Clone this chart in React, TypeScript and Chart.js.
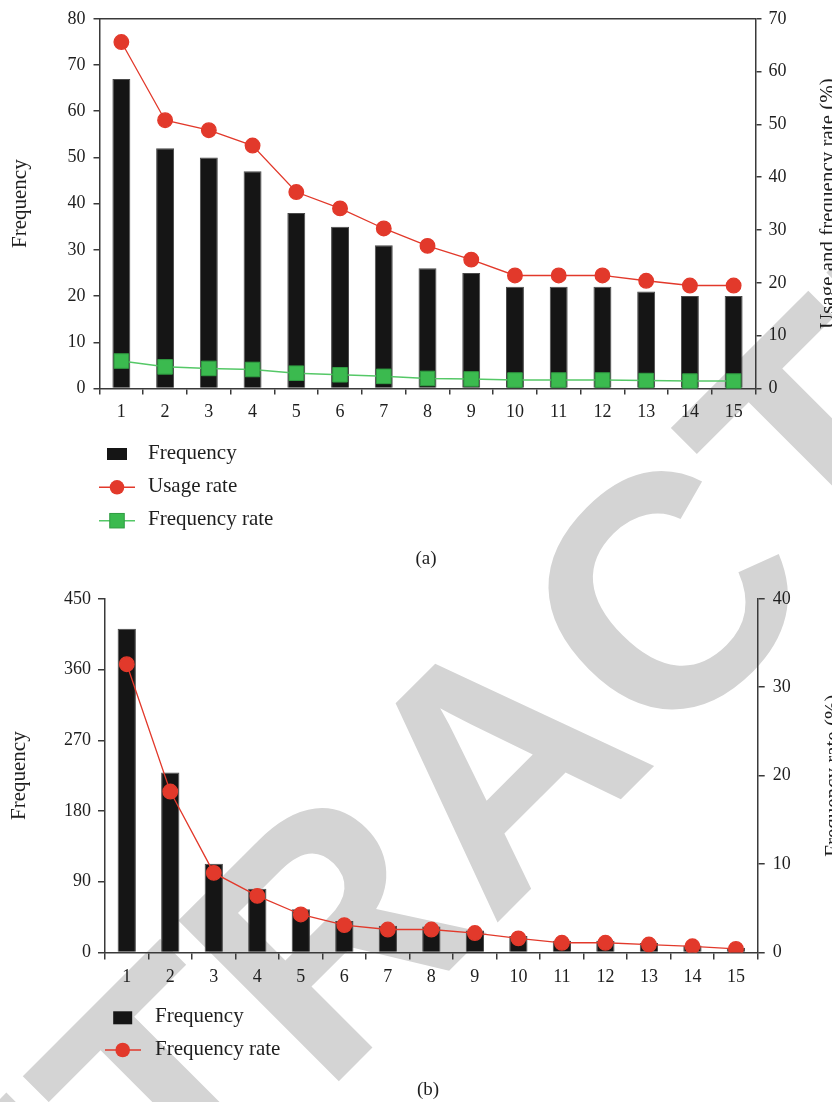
import React, { useEffect, useRef } from "react";
import { Chart, registerables } from "chart.js";

Chart.register(...registerables);

// ---------- data ----------
const categories = ["1", "2", "3", "4", "5", "6", "7", "8", "9", "10", "11", "12", "13", "14", "15"];

// Panel (a)
const frequencyA = [67, 52, 50, 47, 38, 35, 31, 26, 25, 22, 22, 22, 21, 20, 20];
const usageRateA = [65.6, 50.8, 48.9, 46.0, 37.2, 34.1, 30.3, 27.0, 24.4, 21.4, 21.4, 21.4, 20.4, 19.5, 19.5];
const frequencyRateA = [5.2, 4.1, 3.8, 3.6, 2.9, 2.6, 2.3, 1.9, 1.8, 1.6, 1.6, 1.6, 1.5, 1.4, 1.4];

// Panel (b)
const frequencyB = [412, 229, 113, 81, 55, 40, 34, 33, 28, 21, 15, 15, 12, 9, 6];
const frequencyRateB = [32.6, 18.2, 9.0, 6.4, 4.3, 3.1, 2.6, 2.6, 2.2, 1.6, 1.1, 1.1, 0.9, 0.7, 0.4];

// axis ranges / steps
const axisA = { leftMax: 80, leftStep: 10, rightMax: 70, rightStep: 10 };
const axisB = { leftMax: 450, leftStep: 90, rightMax: 40, rightStep: 10 };

const labelsA = { left: "Frequency", right: "Usage and frequency rate (%)", caption: "(a)" };
const labelsB = { left: "Frequency", right: "Frequency rate (%)", caption: "(b)" };

// ---------- styles ----------
const SERIF = '"Liberation Serif", "Times New Roman", serif';
const TEXT = "#1e1e1e";
const AXIS = "#3a3a3a";
const BAR = "#151515";
const RED = "#e2392b";
const GREEN = "#3bba4f";
const GREEN_LINE = "#55c867";

type DecorCfg = {
  topBorder: boolean;
  rightTitle: string;
  rightTitleX: number;
  legendSymX: number;
  legendLineX0: number;
  legendLineX1: number;
  legendTextX: number;
  legendY: number[];
  barSym: [number, number];
  captionText: string;
  captionX: number;
  captionY: number;
};

function makeDecor(cfg: DecorCfg) {
  return {
    id: "decor",
    afterDraw(chart: any) {
      const { ctx, chartArea } = chart;
      ctx.save();
      if (cfg.topBorder) {
        ctx.strokeStyle = AXIS;
        ctx.lineWidth = 1.5;
        ctx.beginPath();
        ctx.moveTo(chartArea.left, chartArea.top);
        ctx.lineTo(chartArea.right, chartArea.top);
        ctx.stroke();
      }
      // right axis title (reads bottom to top)
      ctx.save();
      ctx.fillStyle = TEXT;
      ctx.font = `21px ${SERIF}`;
      ctx.translate(cfg.rightTitleX, (chartArea.top + chartArea.bottom) / 2);
      ctx.rotate(-Math.PI / 2);
      ctx.textAlign = "center";
      ctx.textBaseline = "alphabetic";
      ctx.fillText(cfg.rightTitle, 0, 0);
      ctx.restore();

      // legend
      chart.data.datasets.forEach((ds: any, i: number) => {
        const y = cfg.legendY[i];
        const cx = cfg.legendSymX;
        if (ds.type === "bar") {
          ctx.fillStyle = ds.backgroundColor;
          ctx.fillRect(cx - cfg.barSym[0] / 2, y - cfg.barSym[1] / 2, cfg.barSym[0], cfg.barSym[1]);
        } else {
          ctx.strokeStyle = ds.borderColor;
          ctx.lineWidth = 1.5;
          ctx.beginPath();
          ctx.moveTo(cfg.legendLineX0, y);
          ctx.lineTo(cfg.legendLineX1, y);
          ctx.stroke();
          ctx.fillStyle = ds.backgroundColor;
          ctx.strokeStyle = ds.pointBorderColor || ds.borderColor;
          ctx.lineWidth = 1;
          if (ds.pointStyle === "rect") {
            const s = 14.5;
            ctx.fillRect(cx - s / 2, y - s / 2, s, s);
            ctx.strokeRect(cx - s / 2, y - s / 2, s, s);
          } else {
            ctx.beginPath();
            ctx.arc(cx, y, 7.3, 0, Math.PI * 2);
            ctx.fill();
          }
        }
        ctx.fillStyle = TEXT;
        ctx.font = `21px ${SERIF}`;
        ctx.textAlign = "left";
        ctx.textBaseline = "middle";
        ctx.fillText(ds.label, cfg.legendTextX, y - 1);
      });

      // caption
      ctx.fillStyle = TEXT;
      ctx.font = `19px ${SERIF}`;
      ctx.textAlign = "center";
      ctx.textBaseline = "middle";
      ctx.fillText(cfg.captionText, cfg.captionX, cfg.captionY);
      ctx.restore();
    },
  };
}

const tickFont = { family: SERIF, size: 18 };
const titleFont = { family: SERIF, size: 21 };

function yScale(pos: "left" | "right", max: number, step: number, tickLen: number, pad: number, width: number, title?: string, titlePad?: number) {
  return {
    type: "linear",
    position: pos,
    min: 0,
    max,
    ticks: { stepSize: step, padding: pad, font: tickFont, color: TEXT },
    grid: { display: true, drawOnChartArea: false, drawTicks: true, tickLength: tickLen, color: AXIS, lineWidth: 1.5 },
    border: { display: true, color: AXIS, width: 1.5 },
    title: title
      ? { display: true, text: title, font: titleFont, color: TEXT, padding: { top: titlePad, bottom: 0 } }
      : { display: false },
    afterFit: (s: any) => {
      s.width = width;
    },
  };
}

function xScale(tickLen: number, pad: number) {
  return {
    type: "category",
    offset: true,
    ticks: { padding: pad, font: tickFont, color: TEXT, maxRotation: 0, autoSkip: false },
    grid: { display: true, offset: true, drawOnChartArea: false, drawTicks: true, tickLength: tickLen, color: AXIS, lineWidth: 1.5 },
    border: { display: true, color: AXIS, width: 1.5 },
    afterFit: (s: any) => {
      s.height = 40;
    },
  };
}

export default function App() {
  const wmRef = useRef<HTMLCanvasElement>(null);
  const aRef = useRef<HTMLCanvasElement>(null);
  const bRef = useRef<HTMLCanvasElement>(null);

  useEffect(() => {
    // watermark
    const wc = wmRef.current!;
    const w = wc.getContext("2d")!;
    w.clearRect(0, 0, wc.width, wc.height);
    w.save();
    w.translate(576, 844);
    w.rotate(-Math.PI / 4);
    w.font = 'bold 330px "Liberation Sans", Arial, sans-serif';
    w.fillStyle = "#d4d4d4";
    w.textAlign = "center";
    w.textBaseline = "alphabetic";
    w.fillText("RETRACTED", 0, 0);
    w.restore();

    const chartA = new Chart(aRef.current!, {
      type: "bar",
      data: {
        labels: categories,
        datasets: [
          {
            type: "bar",
            label: "Frequency",
            data: frequencyA,
            backgroundColor: BAR,
            borderColor: "#4a4a4a",
            borderWidth: 1,
            barPercentage: 0.41,
            categoryPercentage: 1,
            yAxisID: "y",
            order: 3,
          },
          {
            type: "line",
            label: "Usage rate",
            data: usageRateA,
            borderColor: RED,
            backgroundColor: RED,
            pointBackgroundColor: RED,
            pointBorderColor: RED,
            borderWidth: 1.3,
            pointRadius: 7.3,
            pointStyle: "circle",
            tension: 0,
            yAxisID: "y1",
            order: 2,
          },
          {
            type: "line",
            label: "Frequency rate",
            data: frequencyRateA,
            borderColor: GREEN_LINE,
            backgroundColor: GREEN,
            pointBackgroundColor: GREEN,
            pointBorderColor: "#2f9c41",
            pointBorderWidth: 1,
            borderWidth: 1.5,
            pointRadius: 10.3,
            pointStyle: "rect",
            tension: 0,
            yAxisID: "y1",
            order: 1,
          },
        ] as any,
      },
      options: {
        responsive: true,
        maintainAspectRatio: false,
        animation: false,
        layout: { padding: { top: 16, bottom: 151.5, left: 0, right: 0 } },
        plugins: { legend: { display: false }, tooltip: { enabled: false }, title: { display: false } },
        scales: {
          x: xScale(6, 7),
          y: yScale("left", axisA.leftMax, axisA.leftStep, 6, 8, 99.5, labelsA.left, 8.3),
          y1: yScale("right", axisA.rightMax, axisA.rightStep, 6, 7, 76.5),
        } as any,
      },
      plugins: [
        makeDecor({
          topBorder: true,
          rightTitle: labelsA.right,
          rightTitleX: 834,
          legendSymX: 117,
          legendLineX0: 99,
          legendLineX1: 135,
          legendTextX: 148,
          legendY: [454, 487.3, 520.7],
          barSym: [20, 12],
          captionText: labelsA.caption,
          captionX: 426,
          captionY: 559,
        }),
      ],
    });

    const chartB = new Chart(bRef.current!, {
      type: "bar",
      data: {
        labels: categories,
        datasets: [
          {
            type: "bar",
            label: "Frequency",
            data: frequencyB,
            backgroundColor: BAR,
            borderColor: "#4a4a4a",
            borderWidth: 1,
            barPercentage: 0.42,
            categoryPercentage: 1,
            yAxisID: "y",
            order: 2,
          },
          {
            type: "line",
            label: "Frequency rate",
            data: frequencyRateB,
            borderColor: RED,
            backgroundColor: RED,
            pointBackgroundColor: RED,
            pointBorderColor: RED,
            borderWidth: 1.3,
            pointRadius: 7.3,
            pointStyle: "circle",
            tension: 0,
            yAxisID: "y1",
            order: 1,
          },
        ] as any,
      },
      options: {
        responsive: true,
        maintainAspectRatio: false,
        animation: false,
        layout: { padding: { top: 17.3, bottom: 109.5, left: 0, right: 0 } },
        plugins: { legend: { display: false }, tooltip: { enabled: false }, title: { display: false } },
        scales: {
          x: xScale(7, 6.5),
          y: yScale("left", axisB.leftMax, axisB.leftStep, 7, 7, 105, labelsB.left, 6.7),
          y1: yScale("right", axisB.rightMax, axisB.rightStep, 7, 8, 74.3),
        } as any,
      },
      plugins: [
        makeDecor({
          topBorder: false,
          rightTitle: labelsB.right,
          rightTitleX: 839,
          legendSymX: 122.7,
          legendLineX0: 105,
          legendLineX1: 141,
          legendTextX: 155,
          legendY: [437.8, 470],
          barSym: [19, 13],
          captionText: labelsB.caption,
          captionX: 428,
          captionY: 510,
        }),
      ],
    });

    return () => {
      chartA.destroy();
      chartB.destroy();
    };
  }, []);

  return (
    <div style={{ position: "absolute", left: 0, top: 0, width: 832, height: 1102, background: "#fff", overflow: "hidden" }}>
      <canvas ref={wmRef} width={832} height={1102} style={{ position: "absolute", left: 0, top: 0 }} />
      <div style={{ position: "absolute", left: 0, top: 0, width: 832, height: 580 }}>
        <canvas ref={aRef} />
      </div>
      <div style={{ position: "absolute", left: 0, top: 580, width: 832, height: 522 }}>
        <canvas ref={bRef} />
      </div>
    </div>
  );
}
